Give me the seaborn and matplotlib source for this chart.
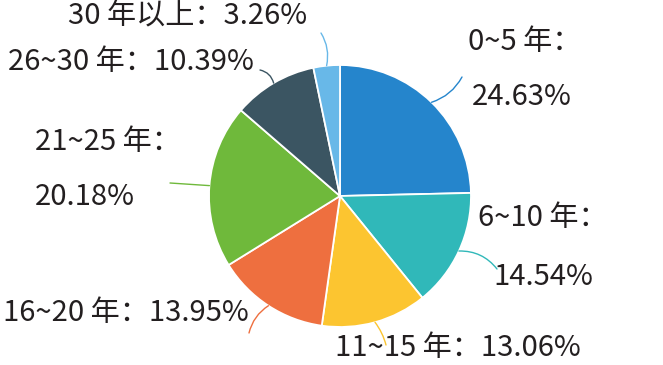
import numpy as np
import matplotlib
matplotlib.use("Agg")
import matplotlib.pyplot as plt
import seaborn as sns

categories = ["0~5 年", "6~10 年", "11~15 年", "16~20 年", "21~25 年", "26~30 年", "30 年以上"]
values = [24.63, 14.54, 13.06, 13.95, 20.18, 10.39, 3.26]
colors = ["#2585cc", "#30b8b9", "#fcc530", "#ee6f3f", "#6fb93b", "#3b5562", "#68b8e8"]

sns.set_theme(style="white")
plt.rcParams['font.family'] = ['Noto Sans CJK SC', 'DejaVu Sans']

W, H = 663, 365
fig = plt.figure(figsize=(W / 100, H / 100), dpi=100)
ax = fig.add_axes([0, 0, 1, 1])

def P(x, y):
    return (x, H - y)

cx, cy, R = 340, 196, 131
wedges, _ = ax.pie(values, colors=colors, startangle=90, counterclock=False,
                   center=P(cx, cy), radius=R,
                   wedgeprops=dict(edgecolor="white", linewidth=1.3))
ax.set_xlim(0, W)
ax.set_ylim(0, H)
ax.set_aspect("equal")
ax.axis("off")

layout = [
    ([("0~5 年：", 468, 42), ("24.63%", 472, 97)], (462, 77), -0.2),
    ([("6~10 年：", 478, 218), ("14.54%", 493, 277)], (497, 269), 0.25),
    ([("11~15 年：13.06%", 335, 348)], (386, 345), 0.1),
    ([("16~20 年：13.95%", 3, 313)], (249, 333), -0.2),
    ([("21~25 年：", 35, 142), ("20.18%", 35, 197)], (170, 183), 0.0),
    ([("26~30 年：10.39%", 8, 62)], (260, 70), -0.3),
    ([("30 年以上：3.26%", 68, 16)], (321, 33), -0.2),
]

for w, col, (texts, end, rad) in zip(wedges, colors, layout):
    mid = np.deg2rad((w.theta1 + w.theta2) / 2)
    sx = cx + R * np.cos(mid)
    sy = H - cy + R * np.sin(mid)
    ax.annotate("", xy=(sx, sy), xytext=P(*end),
                arrowprops=dict(arrowstyle="-", color=col, lw=1.0,
                                connectionstyle=f"arc3,rad={rad}",
                                shrinkA=0, shrinkB=0))
    for t, tx, ty in texts:
        ax.text(*P(tx, ty), t, ha="left", va="center", fontsize=21,
                fontweight="light", color="#231f20")

fig.savefig("out.png", dpi=100, facecolor="white")
